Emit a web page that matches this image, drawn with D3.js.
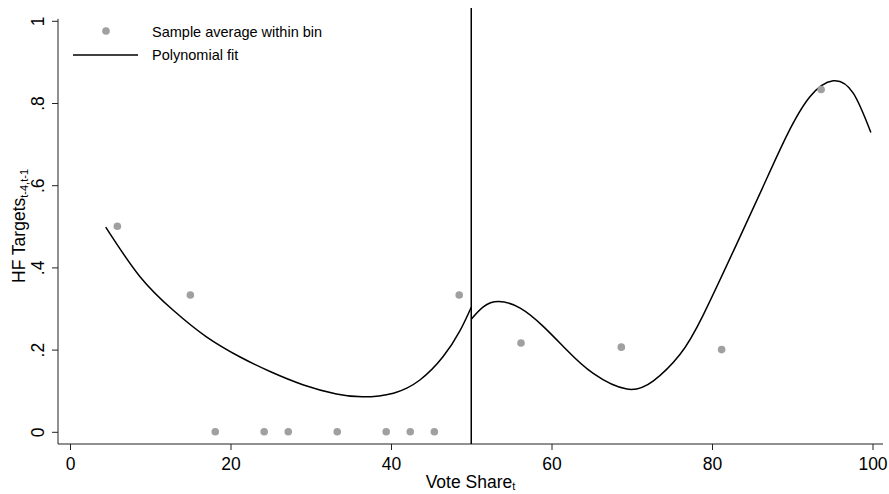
<!DOCTYPE html>
<html><head><meta charset="utf-8">
<script src="https://cdn.jsdelivr.net/npm/d3@7"></script>
<style>
html,body{margin:0;padding:0;background:#fff;}
svg text{font-family:"Liberation Sans",Arial,sans-serif;fill:#000;}
</style></head>
<body><svg id="c" width="889" height="494"></svg>
<script>
// ---- data ----
const binX = [5.9, 15.0, 18.1, 24.2, 27.2, 33.3, 39.4, 42.4, 45.4, 48.5, 56.2, 68.7, 81.2, 93.6];
const binY = [0.5, 0.333, 0, 0, 0, 0, 0, 0, 0, 0.333, 0.216, 0.206, 0.2, 0.833];

const leftFitX = [4.45, 8.7, 12.9, 17.0, 21.2, 25.0, 29.1, 33.2, 36.5, 40.3, 43.6, 46.5, 48.6, 50.0];
const leftFitY = [0.498, 0.378, 0.295, 0.231, 0.182, 0.146, 0.114, 0.092, 0.085, 0.094, 0.126, 0.183, 0.246, 0.303];

const rightFitX = [50.0, 51.5, 53.4, 56.1, 59.0, 61.9, 65.2, 69.4, 72.7, 76.0, 78.9, 83.1, 86.4, 89.3, 92.2, 95.1, 97.6, 99.8];
const rightFitY = [0.274, 0.304, 0.317, 0.301, 0.256, 0.199, 0.142, 0.104, 0.124, 0.188, 0.284, 0.458, 0.598, 0.720, 0.815, 0.854, 0.824, 0.728];

const xTicks = [0, 20, 40, 60, 80, 100];
const yTicks = [0, 0.2, 0.4, 0.6, 0.8, 1];
const yTickLabels = ["0", ".2", ".4", ".6", ".8", "1"];
const cutoff = 50;
const legendLabels = ["Sample average within bin", "Polynomial fit"];

// ---- layout ----
const svg = d3.select("#c");
const plot = {left: 58, right: 883, top: 8, bottom: 444};
const x = d3.scaleLinear().domain([0, 100]).range([70, 872.5]);
const y = d3.scaleLinear().domain([0, 1]).range([431.8, 20.8]);

// axes
const xAxis = d3.axisBottom(x).tickValues(xTicks).tickSize(6).tickPadding(8).tickFormat(d3.format("d"));
const gx = svg.append("g").attr("transform", `translate(0,${plot.bottom})`).call(xAxis);
gx.select(".domain").remove();
gx.selectAll(".tick line").attr("stroke", "#222");
gx.selectAll(".tick text").attr("font-size", 17.5).attr("font-family", "Liberation Sans, Arial, sans-serif").attr("fill", "#000");
svg.append("line").attr("x1", plot.left).attr("x2", plot.right).attr("y1", plot.bottom).attr("y2", plot.bottom)
  .attr("stroke", "#222").attr("stroke-width", 1);

const yAxis = d3.axisLeft(y).tickValues(yTicks).tickSize(6).tickFormat((d, i) => yTickLabels[i]);
const gy = svg.append("g").attr("transform", `translate(${plot.left},0)`).call(yAxis);
gy.select(".domain").remove();
gy.selectAll(".tick line").attr("stroke", "#222");
gy.selectAll(".tick text")
  .attr("font-size", 17.5).attr("font-family", "Liberation Sans, Arial, sans-serif").attr("fill", "#000")
  .attr("x", null).attr("dy", null)
  .attr("text-anchor", "middle")
  .attr("transform", "translate(-14,0) rotate(-90)");
svg.append("line").attr("x1", plot.left).attr("x2", plot.left).attr("y1", y(1) - 2).attr("y2", plot.bottom)
  .attr("stroke", "#222").attr("stroke-width", 1);

// cutoff line
svg.append("line").attr("x1", x(cutoff)).attr("x2", x(cutoff)).attr("y1", plot.top).attr("y2", plot.bottom)
  .attr("stroke", "#000").attr("stroke-width", 1.5);

// fit lines
const line = d3.line().x(d => x(d[0])).y(d => y(d[1])).curve(d3.curveNatural);
const leftFit = leftFitX.map((v, i) => [v, leftFitY[i]]);
const rightFit = rightFitX.map((v, i) => [v, rightFitY[i]]);
[leftFit, rightFit].forEach(dat => {
  svg.append("path").attr("d", line(dat)).attr("fill", "none").attr("stroke", "#000").attr("stroke-width", 1.5);
});

// bin points
svg.append("g").selectAll("circle").data(binX.map((v, i) => [v, binY[i]])).join("circle")
  .attr("cx", d => x(d[0])).attr("cy", d => y(d[1])).attr("r", 3.8).attr("fill", "#a0a0a0");

// legend
svg.append("circle").attr("cx", 106).attr("cy", 31).attr("r", 3.8).attr("fill", "#a0a0a0");
svg.append("text").attr("x", 152).attr("y", 36.5).attr("font-size", 14.5).text(legendLabels[0]);
svg.append("line").attr("x1", 73).attr("x2", 138).attr("y1", 55).attr("y2", 55).attr("stroke", "#000").attr("stroke-width", 1.5);
svg.append("text").attr("x", 152).attr("y", 60).attr("font-size", 14.5).text(legendLabels[1]);

// axis titles
const xt = svg.append("text").attr("x", (plot.left + plot.right) / 2).attr("y", 488).attr("text-anchor", "middle").attr("font-size", 17.5);
xt.append("tspan").text("Vote Share");
xt.append("tspan").attr("font-size", 11).attr("dy", 2).text("t");

const yt = svg.append("text").attr("transform", `translate(25,${(plot.top + plot.bottom) / 2}) rotate(-90)`)
  .attr("text-anchor", "middle").attr("font-size", 17.5);
yt.append("tspan").text("HF Targets");
yt.append("tspan").attr("font-size", 11).attr("dy", 3).text("t-4,t-1");
</script></body></html>
